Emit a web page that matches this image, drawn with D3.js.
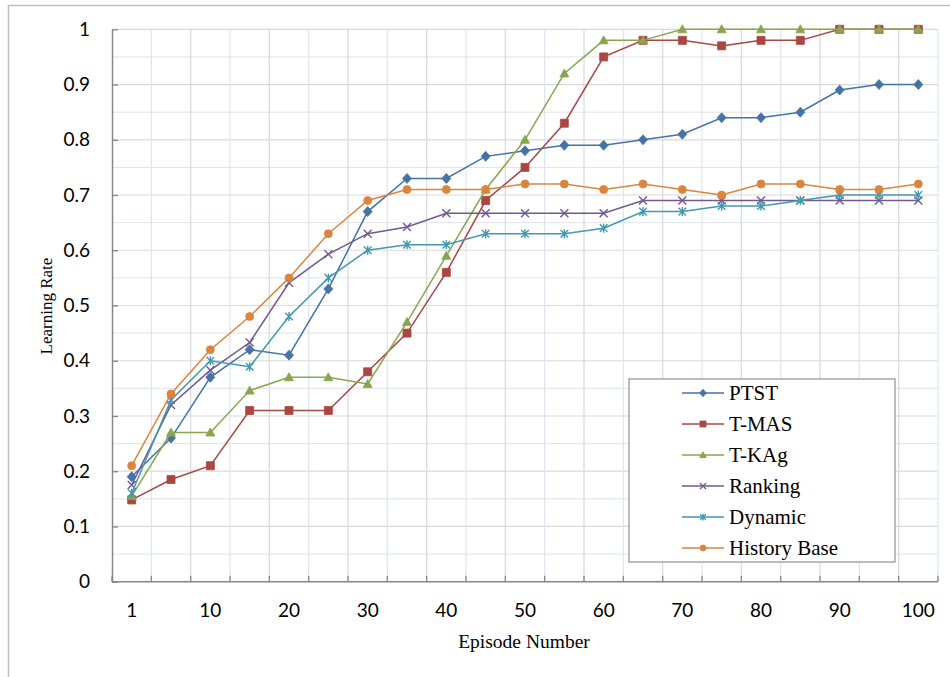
<!DOCTYPE html>
<html>
<head>
<meta charset="utf-8">
<script src="https://cdn.jsdelivr.net/npm/d3@7"></script>
<style>
  body { margin: 0; background: #fff; }
  svg { display: block; }
  .tick text { font-family: Lato, "Open Sans", sans-serif; font-size: 19px; fill: #000; }
  .ttl { font-family: "Liberation Serif", "Times New Roman", serif; fill: #000; }
</style>
</head>
<body>
<svg id="chart" width="950" height="677"></svg>
<script>
// episode numbers (every other one is labelled)
var episodes = [1, 5, 10, 15, 20, 25, 30, 35, 40, 45, 50, 55, 60, 65, 70, 75, 80, 85, 90, 95, 100];
var yTicks = [0, 0.1, 0.2, 0.3, 0.4, 0.5, 0.6, 0.7, 0.8, 0.9, 1];

var ptst        = [0.19, 0.26, 0.37, 0.42, 0.41, 0.53, 0.67, 0.73, 0.73, 0.77, 0.78, 0.79, 0.79, 0.80, 0.81, 0.84, 0.84, 0.85, 0.89, 0.90, 0.90];
var tmas        = [0.148, 0.185, 0.21, 0.31, 0.31, 0.31, 0.38, 0.45, 0.56, 0.69, 0.75, 0.83, 0.95, 0.98, 0.98, 0.97, 0.98, 0.98, 1.0, 1.0, 1.0];
var tkag        = [0.155, 0.27, 0.27, 0.346, 0.37, 0.37, 0.358, 0.47, 0.59, 0.71, 0.80, 0.92, 0.98, 0.98, 1.0, 1.0, 1.0, 1.0, 1.0, 1.0, 1.0];
var ranking     = [0.175, 0.32, 0.383, 0.433, 0.541, 0.593, 0.63, 0.642, 0.667, 0.667, 0.667, 0.667, 0.667, 0.69, 0.69, 0.69, 0.69, 0.69, 0.69, 0.69, 0.69];
var dynamic     = [0.16, 0.329, 0.40, 0.389, 0.48, 0.55, 0.60, 0.61, 0.61, 0.63, 0.63, 0.63, 0.64, 0.67, 0.67, 0.68, 0.68, 0.69, 0.70, 0.70, 0.70];
var historyBase = [0.21, 0.34, 0.42, 0.48, 0.55, 0.63, 0.69, 0.71, 0.71, 0.71, 0.72, 0.72, 0.71, 0.72, 0.71, 0.70, 0.72, 0.72, 0.71, 0.71, 0.72];

var seriesNames = ["PTST", "T-MAS", "T-KAg", "Ranking", "Dynamic", "History Base"];
var seriesValues = [ptst, tmas, tkag, ranking, dynamic, historyBase];
var seriesColors = ["#4572A7", "#AA4643", "#89A54E", "#71588F", "#4198AF", "#DB843D"];
var seriesMarkers = ["diamond", "square", "triangle", "cross", "star", "circle"];

var svg = d3.select("#chart");

// outer chart frame
svg.append("rect")
  .attr("x", 8.5).attr("y", 5.5)
  .attr("width", 960).attr("height", 700)
  .attr("fill", "none").attr("stroke", "#bfbfbf").attr("stroke-width", 1.5);

var plotLeft = 112, plotRight = 938, plotTop = 29.3, plotBottom = 581.7;

var x = d3.scaleBand().domain(episodes).range([plotLeft, plotRight]);
var y = d3.scaleLinear().domain([0, 1]).range([plotBottom, plotTop]);
var cx = function(e) { return x(e) + x.bandwidth() / 2; };

// gridlines
var grid = svg.append("g");
var minorY = d3.range(0.05, 1, 0.1);
grid.selectAll(".hminor").data(minorY).enter().append("line")
  .attr("x1", plotLeft).attr("x2", plotRight)
  .attr("y1", function(d) { return y(d); }).attr("y2", function(d) { return y(d); })
  .attr("stroke", "#dfe3e8").attr("stroke-width", 1);
grid.selectAll(".hmajor").data(yTicks.slice(1)).enter().append("line")
  .attr("x1", plotLeft).attr("x2", plotRight)
  .attr("y1", function(d) { return y(d); }).attr("y2", function(d) { return y(d); })
  .attr("stroke", "#d9d9d9").attr("stroke-width", 1.2);
var edges = episodes.map(function(e) { return x(e); }).concat([plotRight]);
grid.selectAll(".v").data(edges.slice(1)).enter().append("line")
  .attr("x1", function(d) { return d; }).attr("x2", function(d) { return d; })
  .attr("y1", plotTop).attr("y2", plotBottom)
  .attr("stroke", function(d, i) { return i % 2 === 0 ? "#dde6f0" : "#d9d9d9"; })
  .attr("stroke-width", 1.2);

// y axis
var yAxis = d3.axisLeft(y)
  .tickValues(yTicks)
  .tickSizeInner(-6).tickSizeOuter(0)
  .tickPadding(22)
  .tickFormat(function(d) { return d === 0 ? "0" : d === 1 ? "1" : d3.format(".1f")(d); });
var gy = svg.append("g").attr("transform", "translate(" + plotLeft + ",0)").call(yAxis);
gy.select(".domain").attr("stroke", "#868686").attr("stroke-width", 1.5);
gy.selectAll(".tick line").attr("stroke", "#868686").attr("stroke-width", 1.3);

// x axis (labels at band centres, every other category)
var xAxis = d3.axisBottom(x)
  .tickValues(episodes.filter(function(d, i) { return i % 2 === 0; }))
  .tickSize(0).tickPadding(22);
var gx = svg.append("g").attr("transform", "translate(0," + plotBottom + ")").call(xAxis);
gx.select(".domain").remove();
svg.append("line")
  .attr("x1", plotLeft).attr("x2", plotRight).attr("y1", plotBottom).attr("y2", plotBottom)
  .attr("stroke", "#868686").attr("stroke-width", 1.5);
svg.selectAll(".xtick").data(edges).enter().append("line")
  .attr("x1", function(d) { return d; }).attr("x2", function(d) { return d; })
  .attr("y1", plotBottom).attr("y2", plotBottom - 6)
  .attr("stroke", "#868686").attr("stroke-width", 1.3);

// axis titles
svg.append("text").attr("class", "ttl")
  .attr("x", 524).attr("y", 648).attr("text-anchor", "middle")
  .style("font-size", "19.5px").text("Episode Number");
svg.append("text").attr("class", "ttl")
  .attr("transform", "translate(52,306) rotate(-90)").attr("text-anchor", "middle")
  .style("font-size", "17px").text("Learning Rate");

// marker shapes
var markerPath = function(type, s) {
  var p = d3.path();
  if (type === "diamond") {
    p.moveTo(0, -5 * s); p.lineTo(4.5 * s, 0); p.lineTo(0, 5 * s); p.lineTo(-4.5 * s, 0); p.closePath();
  } else if (type === "square") {
    p.rect(-4 * s, -4 * s, 8 * s, 8 * s);
  } else if (type === "triangle") {
    p.moveTo(0, -4.5 * s); p.lineTo(4.5 * s, 3.5 * s); p.lineTo(-4.5 * s, 3.5 * s); p.closePath();
  } else if (type === "circle") {
    p.arc(0, 0, 4 * s, 0, 2 * Math.PI);
  } else if (type === "cross") {
    p.moveTo(-4 * s, -4 * s); p.lineTo(4 * s, 4 * s); p.moveTo(4 * s, -4 * s); p.lineTo(-4 * s, 4 * s);
  } else if (type === "star") {
    p.moveTo(-3.8 * s, -3.8 * s); p.lineTo(3.8 * s, 3.8 * s); p.moveTo(3.8 * s, -3.8 * s); p.lineTo(-3.8 * s, 3.8 * s);
    p.moveTo(0, -4.5 * s); p.lineTo(0, 4.5 * s);
  }
  return p.toString();
};
var drawMarker = function(sel, type, color, s) {
  var open = type === "cross" || type === "star";
  sel.append("path")
    .attr("d", markerPath(type, s))
    .attr("fill", open ? "none" : color)
    .attr("stroke", color)
    .attr("stroke-width", open ? 1.4 : 0.8);
};

var line = d3.line()
  .x(function(d, i) { return cx(episodes[i]); })
  .y(function(d) { return y(d); });

var plot = svg.append("g");
seriesValues.forEach(function(vals, k) {
  var g = plot.append("g");
  g.append("path").datum(vals)
    .attr("d", line)
    .attr("fill", "none")
    .attr("stroke", seriesColors[k])
    .attr("stroke-width", 1.5);
  vals.forEach(function(v, i) {
    var m = g.append("g").attr("transform", "translate(" + cx(episodes[i]) + "," + y(v) + ")");
    drawMarker(m, seriesMarkers[k], seriesColors[k], 1);
  });
});

// legend
var legend = svg.append("g");
legend.append("rect")
  .attr("x", 629).attr("y", 379).attr("width", 266).attr("height", 183)
  .attr("fill", "#fff").attr("stroke", "#a6a6a6").attr("stroke-width", 1.5);
seriesNames.forEach(function(name, k) {
  var ly = 393 + k * 31;
  var item = legend.append("g");
  item.append("line")
    .attr("x1", 682).attr("x2", 724).attr("y1", ly).attr("y2", ly)
    .attr("stroke", seriesColors[k]).attr("stroke-width", 1.5);
  var m = item.append("g").attr("transform", "translate(703," + ly + ")");
  drawMarker(m, seriesMarkers[k], seriesColors[k], 0.75);
  item.append("text").attr("class", "ttl")
    .attr("x", 729).attr("y", ly + 7)
    .style("font-size", "21px").text(name);
});
</script>
</body>
</html>
